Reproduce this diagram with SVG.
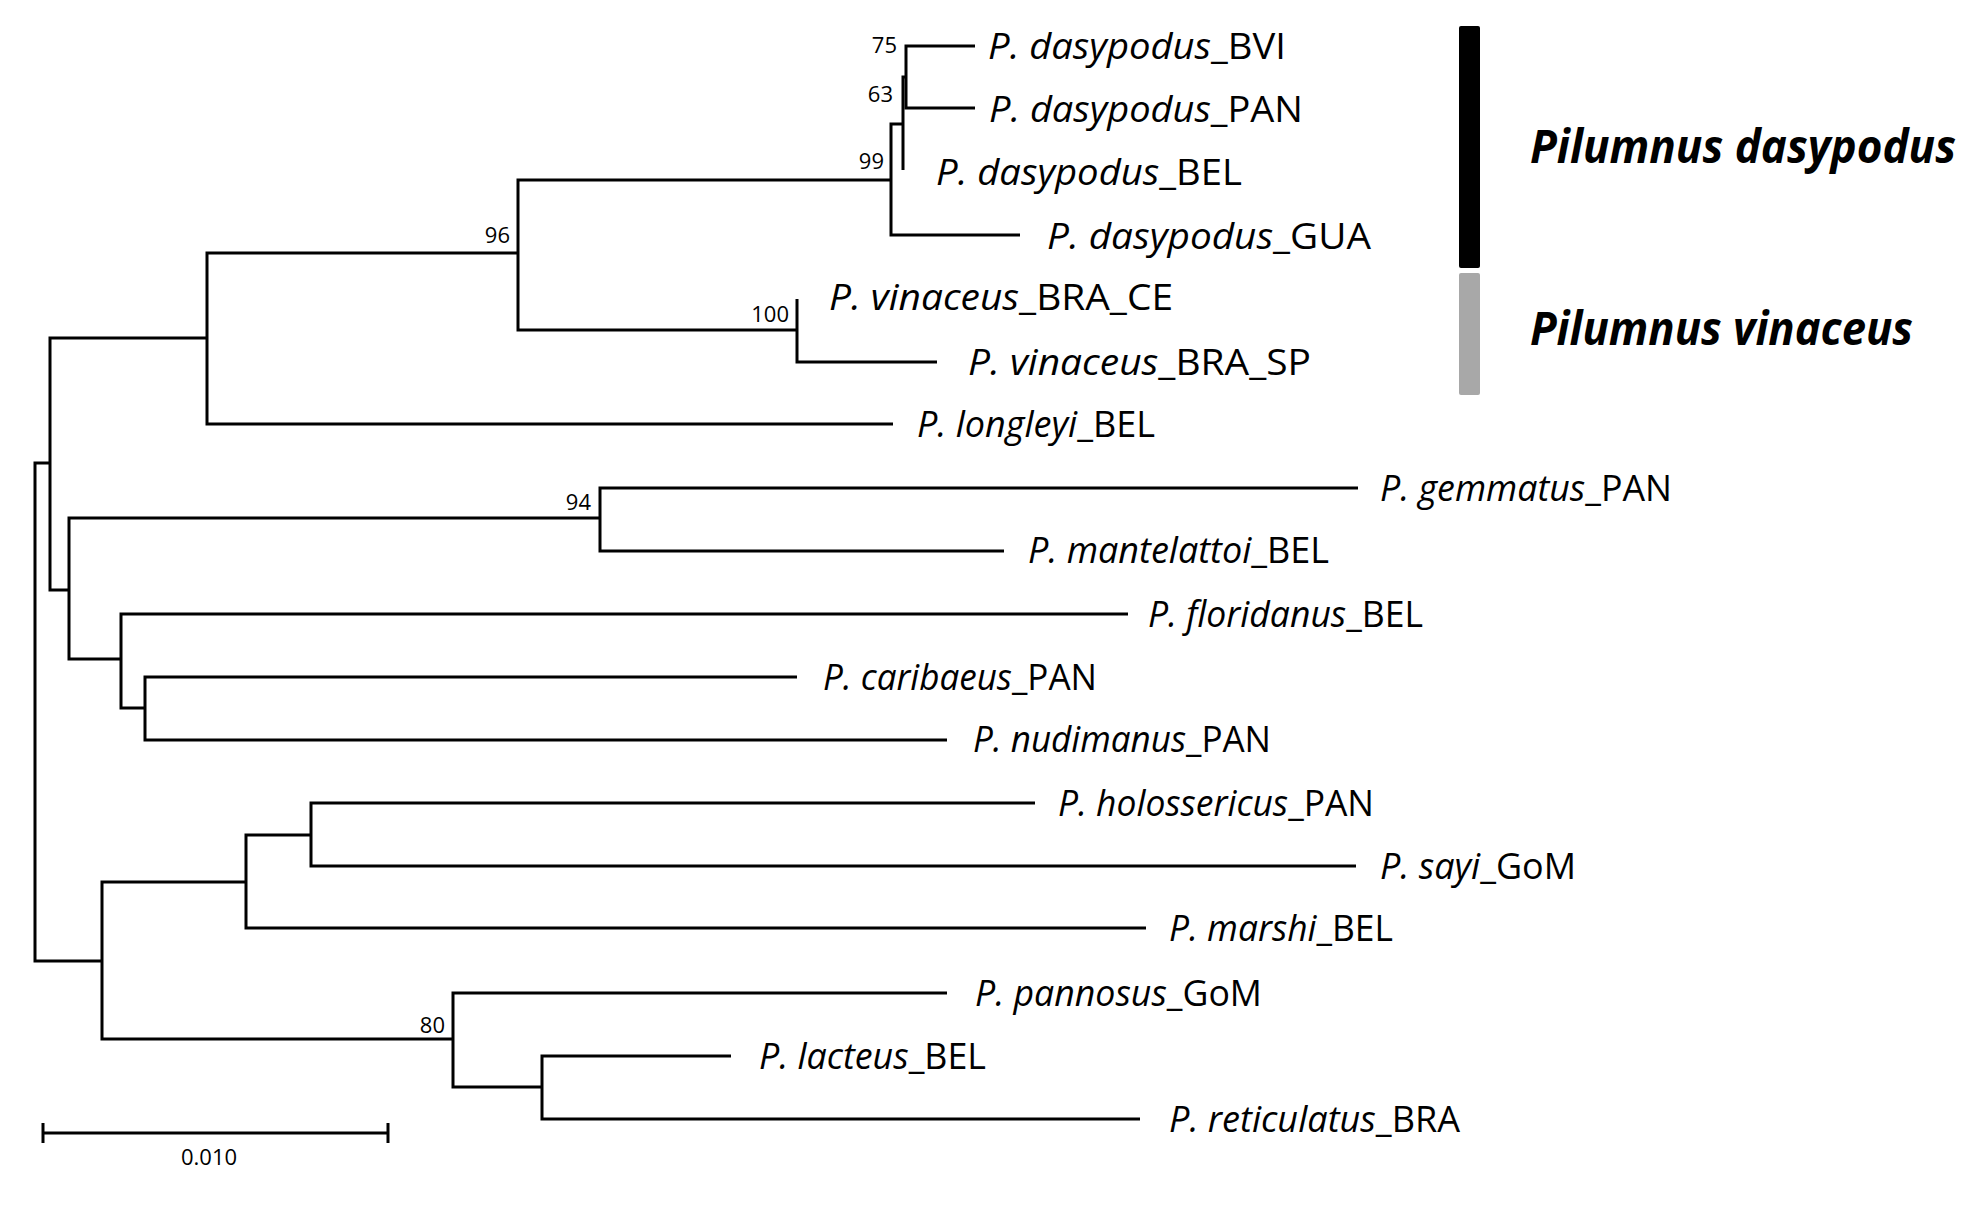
<svg xmlns="http://www.w3.org/2000/svg" width="1988" height="1206" viewBox="0 0 1988 1206">
<style>
  .br { fill: none; stroke: #000; stroke-width: 3; stroke-linejoin: miter; }
  .leaf { font-family: "Open Sans", "Liberation Sans", sans-serif; font-size: 36px; fill: #000; }
  .it { font-style: italic; }
  .bs { font-family: "Open Sans", "Liberation Sans", sans-serif; font-size: 22px; fill: #000; text-anchor: end; }
  .grp { font-family: "Open Sans", "Liberation Sans", sans-serif; font-size: 47px; font-weight: bold; font-style: italic; fill: #000; }
  .sc { font-family: "Open Sans", "Liberation Sans", sans-serif; font-size: 22px; fill: #000; text-anchor: middle; }
</style>
<rect x="0" y="0" width="1988" height="1206" fill="#fff"/>

<g id="connectors">
  <path class="br" d="M975 46 H906 V108 H975"/>
  <path class="br" d="M906 77 H903 V170"/>
  <path class="br" d="M903 124 H891 V235 H1020"/>
  <path class="br" d="M891 180 H518 V330 H797"/>
  <path class="br" d="M797 299 V362 H937"/>
  <path class="br" d="M518 253 H207 V424 H893"/>
  <path class="br" d="M207 338 H50 V590 H69"/>
  <path class="br" d="M50 463 H35 V961 H102"/>
  <path class="br" d="M600 518 H69 V659 H121"/>
  <path class="br" d="M1358 488 H600 V551 H1004"/>
  <path class="br" d="M1128 614 H121 V708 H145"/>
  <path class="br" d="M797 677 H145 V740 H947"/>
  <path class="br" d="M246 882 H102 V1039 H453"/>
  <path class="br" d="M311 835 H246 V928 H1146"/>
  <path class="br" d="M1035 803 H311 V866 H1356"/>
  <path class="br" d="M947 993 H453 V1087 H542"/>
  <path class="br" d="M731 1056 H542 V1119 H1140"/>
</g>

<g id="bootstrap">
  <g id="node-75"><text class="bs" x="897" y="53">75</text></g>
  <g id="node-63"><text class="bs" x="893" y="102">63</text></g>
  <g id="node-99"><text class="bs" x="884" y="169">99</text></g>
  <g id="node-96"><text class="bs" x="510" y="243">96</text></g>
  <g id="node-100"><text class="bs" x="789" y="322">100</text></g>
  <g id="node-94"><text class="bs" x="591" y="510">94</text></g>
  <g id="node-80"><text class="bs" x="445" y="1033">80</text></g>
</g>

<g id="leaves">
  <g id="leaf-dasypodus-BVI"><text class="leaf" x="988" y="59" textLength="298" lengthAdjust="spacingAndGlyphs"><tspan class="it">P. dasypodus</tspan>_BVI</text></g>
  <g id="leaf-dasypodus-PAN"><text class="leaf" x="989" y="122" textLength="314" lengthAdjust="spacingAndGlyphs"><tspan class="it">P. dasypodus</tspan>_PAN</text></g>
  <g id="leaf-dasypodus-BEL"><text class="leaf" x="936" y="185" textLength="306" lengthAdjust="spacingAndGlyphs"><tspan class="it">P. dasypodus</tspan>_BEL</text></g>
  <g id="leaf-dasypodus-GUA"><text class="leaf" x="1047" y="249" textLength="324" lengthAdjust="spacingAndGlyphs"><tspan class="it">P. dasypodus</tspan>_GUA</text></g>
  <g id="leaf-vinaceus-BRA-CE"><text class="leaf" x="829" y="310" textLength="344" lengthAdjust="spacingAndGlyphs"><tspan class="it">P. vinaceus</tspan>_BRA_CE</text></g>
  <g id="leaf-vinaceus-BRA-SP"><text class="leaf" x="968" y="375" textLength="343" lengthAdjust="spacingAndGlyphs"><tspan class="it">P. vinaceus</tspan>_BRA_SP</text></g>
  <g id="leaf-longleyi-BEL"><text class="leaf" x="917" y="437" textLength="238" lengthAdjust="spacingAndGlyphs"><tspan class="it">P. longleyi</tspan>_BEL</text></g>
  <g id="leaf-gemmatus-PAN"><text class="leaf" x="1380" y="501" textLength="292" lengthAdjust="spacingAndGlyphs"><tspan class="it">P. gemmatus</tspan>_PAN</text></g>
  <g id="leaf-mantelattoi-BEL"><text class="leaf" x="1028" y="563" textLength="301" lengthAdjust="spacingAndGlyphs"><tspan class="it">P. mantelattoi</tspan>_BEL</text></g>
  <g id="leaf-floridanus-BEL"><text class="leaf" x="1148" y="627" textLength="275" lengthAdjust="spacingAndGlyphs"><tspan class="it">P. floridanus</tspan>_BEL</text></g>
  <g id="leaf-caribaeus-PAN"><text class="leaf" x="823" y="690" textLength="274" lengthAdjust="spacingAndGlyphs"><tspan class="it">P. caribaeus</tspan>_PAN</text></g>
  <g id="leaf-nudimanus-PAN"><text class="leaf" x="973" y="752" textLength="298" lengthAdjust="spacingAndGlyphs"><tspan class="it">P. nudimanus</tspan>_PAN</text></g>
  <g id="leaf-holossericus-PAN"><text class="leaf" x="1058" y="816" textLength="316" lengthAdjust="spacingAndGlyphs"><tspan class="it">P. holossericus</tspan>_PAN</text></g>
  <g id="leaf-sayi-GoM"><text class="leaf" x="1380" y="879" textLength="196" lengthAdjust="spacingAndGlyphs"><tspan class="it">P. sayi</tspan>_GoM</text></g>
  <g id="leaf-marshi-BEL"><text class="leaf" x="1169" y="941" textLength="224" lengthAdjust="spacingAndGlyphs"><tspan class="it">P. marshi</tspan>_BEL</text></g>
  <g id="leaf-pannosus-GoM"><text class="leaf" x="975" y="1006" textLength="287" lengthAdjust="spacingAndGlyphs"><tspan class="it">P. pannosus</tspan>_GoM</text></g>
  <g id="leaf-lacteus-BEL"><text class="leaf" x="759" y="1069" textLength="227" lengthAdjust="spacingAndGlyphs"><tspan class="it">P. lacteus</tspan>_BEL</text></g>
  <g id="leaf-reticulatus-BRA"><text class="leaf" x="1169" y="1132" textLength="291" lengthAdjust="spacingAndGlyphs"><tspan class="it">P. reticulatus</tspan>_BRA</text></g>
</g>

<g id="group-dasypodus">
  <rect x="1459" y="26" width="21" height="242" rx="2" fill="#000"/>
  <text class="grp" x="1530" y="163" textLength="426" lengthAdjust="spacingAndGlyphs">Pilumnus dasypodus</text>
</g>
<g id="group-vinaceus">
  <rect x="1459" y="273" width="21" height="122" rx="2" fill="#a8a8a8"/>
  <text class="grp" x="1530" y="345" textLength="383" lengthAdjust="spacingAndGlyphs">Pilumnus vinaceus</text>
</g>

<g id="scale-bar">
  <path class="br" d="M43 1123 V1143 M43 1133 H388 M388 1123 V1143"/>
  <text class="sc" x="209" y="1165">0.010</text>
</g>
</svg>
